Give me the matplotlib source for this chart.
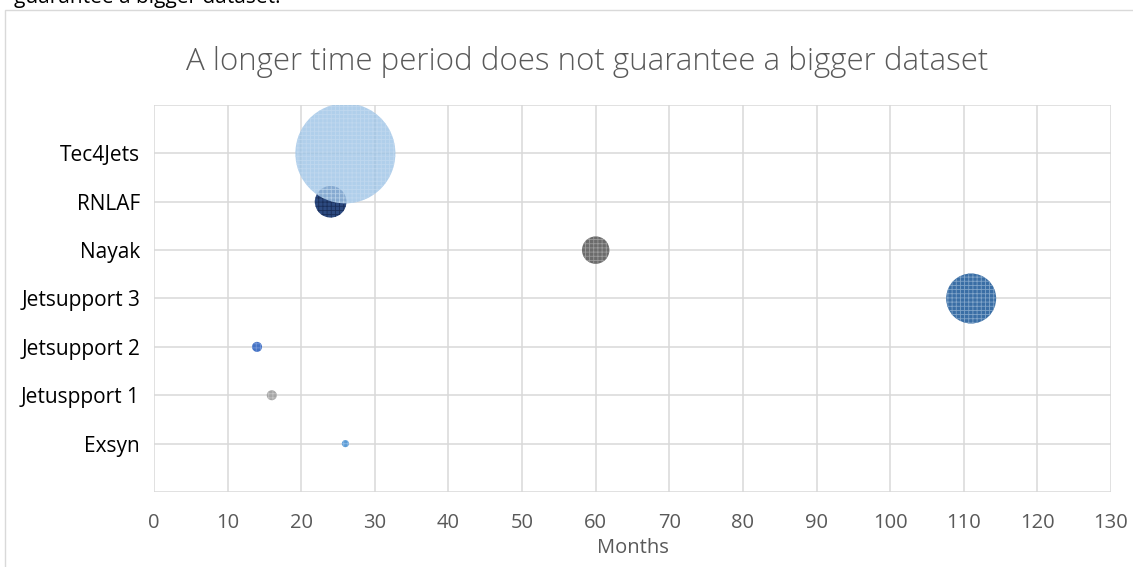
import numpy as np
import matplotlib.pyplot as plt
from matplotlib.patches import Rectangle

# dataset per project: duration in months and relative dataset size
projects = ['Exsyn', 'Jetuspport 1', 'Jetsupport 2', 'Jetsupport 3', 'Nayak', 'RNLAF', 'Tec4Jets']
months = [26, 16, 14, 111, 60, 24, 26]
dataset_size = [5, 10, 10, 250, 75, 100, 1000]

colors = ['#5B9BD5', '#A5A5A5', '#4472C4', '#3A6EA5', '#6B6B6B', '#2D4A80', '#9DC3E6']
hatch_colors = ['#8DBBE6', '#C4C4C4', '#7396D8', '#7FA3C8', '#9A9A9A', '#1A2F5A', '#C3DAF0']
alphas = [1, 1, 1, 1, 1, 1, 0.8]

plt.rcParams['font.family'] = ['Open Sans', 'DejaVu Sans']
plt.rcParams['hatch.linewidth'] = 0.6

fig = plt.figure(figsize=(11.33, 5.67), dpi=100)
ax = fig.add_axes([0.1359, 0.1323, 0.8447, 0.6825])

# chart frame
fig.patches.append(Rectangle((5 / 1133, -0.1), 1.2, 1.1 - 10 / 567,
                             transform=fig.transFigure, fill=False,
                             edgecolor='#D9D9D9', lw=1.0))
fig.text(14 / 1133, 1 - 3 / 567, 'guarantee a bigger dataset.', fontsize=15,
         color='black', va='baseline', ha='left')

ypos = np.arange(1, len(projects) + 1)
scale = 5184 / max(dataset_size)
for i in range(len(projects)):
    with plt.rc_context({'hatch.color': hatch_colors[i]}):
        ax.scatter(months[i], ypos[i], s=dataset_size[i] * scale, color=colors[i],
                   hatch='++++', edgecolors=hatch_colors[i], linewidths=0,
                   alpha=alphas[i], zorder=3 + i)

ax.set_xlim(0, 130)
ax.set_ylim(0, 8)
ax.set_xticks(np.arange(0, 131, 10))
ax.set_yticks(np.arange(0, 9))
ax.set_yticklabels([''] + projects + [''])
ax.grid(True, color='#D9D9D9', lw=1.1)
ax.set_axisbelow(True)
for s in ax.spines.values():
    s.set_visible(False)
ax.tick_params(axis='both', length=0)
ax.tick_params(axis='x', pad=15, labelsize=14.5, labelcolor='#595959')
ax.tick_params(axis='y', pad=10, labelsize=15, labelcolor='black')

ax.set_xlabel('Months', fontsize=14.5, color='#595959', labelpad=4)
fig.text(587 / 1133, 1 - 62 / 567, 'A longer time period does not guarantee a bigger dataset',
         fontsize=22.5, color='#595959', ha='center', va='center', fontweight='light')

plt.savefig('out.png', dpi=100)
